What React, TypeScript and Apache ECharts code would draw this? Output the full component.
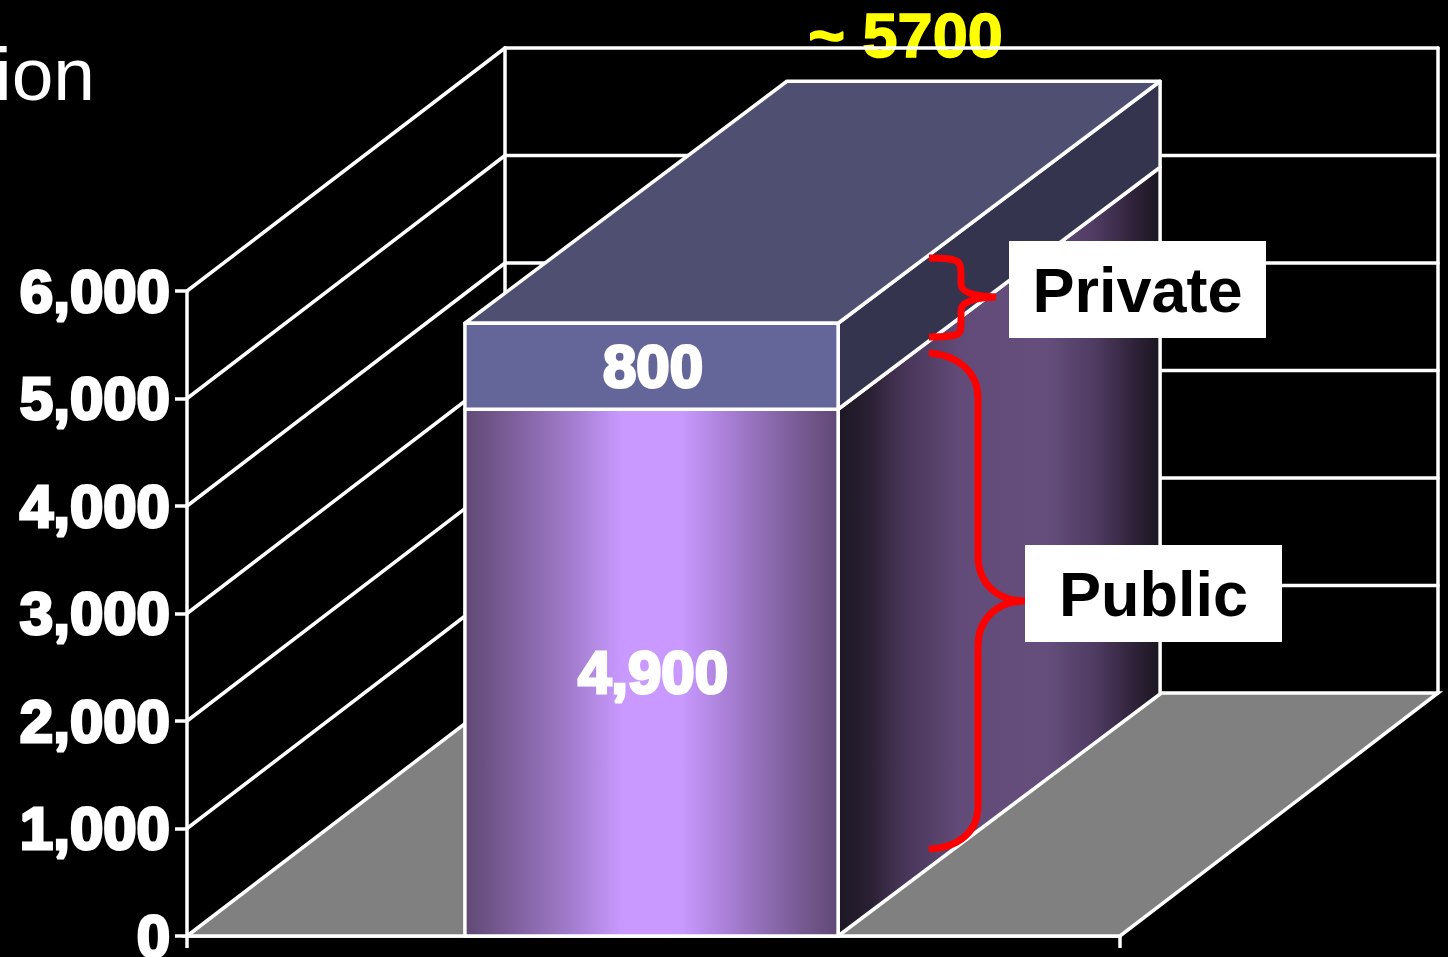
import React, { useEffect, useRef } from "react";
import * as echarts from "echarts";

const categories = ["Funding"];
const publicValues = [4900];
const privateValues = [800];
const yTicks = [0, 1000, 2000, 3000, 4000, 5000, 6000];
const clippedTitle = "ion";
const publicName = "Public";
const privateName = "Private";

const WHITE = "#ffffff";
const FONT = '"Liberation Sans", Arial, sans-serif';
const WALL_DX = 318;
const WALL_DY = -243;
const BAR_DX = 322;
const BAR_DY = -242;
const LINE = 3.5;

const fmt = (v: number) => v.toLocaleString("en-US");

const privateBrace =
  "M929 258 C946 258 956 259 959 263 C961 266 961 270 961 276 L961 284 C961 291 970 296 996 297 C970 298 961 303 961 311 L961 322 C961 328 961 332 958 334 C954 336 944 337 929 337";
const publicBrace =
  "M929 353 C958 355 978 372 978 398 L978 556 C978 582 996 601 1025 601 C996 601 978 620 978 646 L978 806 C978 832 958 848 929 849";
echarts.graphic.registerShape("privateBrace", echarts.graphic.extendPath(privateBrace, {}));
echarts.graphic.registerShape("publicBrace", echarts.graphic.extendPath(publicBrace, {}));

const frontFill = new echarts.graphic.LinearGradient(0, 0, 1, 0, [
  { offset: 0, color: "#5f4975" },
  { offset: 0.1, color: "#775a92" },
  { offset: 0.3, color: "#a67fd2" },
  { offset: 0.42, color: "#c999ff" },
  { offset: 0.58, color: "#c999ff" },
  { offset: 0.72, color: "#a47cd0" },
  { offset: 0.9, color: "#775a92" },
  { offset: 1, color: "#5f4975" },
]);
const sideFill = new echarts.graphic.LinearGradient(0, 0, 1, 0, [
  { offset: 0, color: "#1c1724" },
  { offset: 0.1, color: "#2a2033" },
  { offset: 0.2, color: "#473557" },
  { offset: 0.38, color: "#624b78" },
  { offset: 0.65, color: "#654e7c" },
  { offset: 0.8, color: "#4f3b62" },
  { offset: 0.92, color: "#2e2238" },
  { offset: 1, color: "#1b1620" },
]);

const renderTotal = (_: any, api: any) => {
  const [x0, y] = api.coord([0, publicValues[0] + privateValues[0]]);
  return {
    type: "text",
    x: x0 + 252,
    y: y - 288,
    style: {
      text: `~ ${publicValues[0] + privateValues[0]}`,
      font: `bold 63px ${FONT}`,
      fill: "#ffff00",
      stroke: "#ffff00",
      lineWidth: 1.5,
      align: "center",
      verticalAlign: "middle",
    },
  };
};

const renderWalls = (_: any, api: any) => {
  const v = api.value(1);
  const band = api.size([1, 0])[0];
  const [cx, y] = api.coord([0, v]);
  const x0 = cx - band / 2;
  const x1 = cx + band / 2;
  const line = (a: number, b: number, c: number, d: number) => ({
    type: "line",
    shape: { x1: a, y1: b, x2: c, y2: d },
    style: { stroke: WHITE, lineWidth: LINE, lineCap: "round" },
  });
  const children: any[] = [];
  if (v === 0) {
    const top = api.coord([0, yTicks[yTicks.length - 1]])[1];
    children.push({
      type: "polygon",
      shape: {
        points: [
          [x0, y],
          [x0 + WALL_DX, y + WALL_DY],
          [x1 + WALL_DX, y + WALL_DY],
          [x1, y],
        ],
      },
      style: { fill: "#808080", stroke: WHITE, lineWidth: LINE },
    });
    children.push(line(x0 + WALL_DX, y + WALL_DY, x0 + WALL_DX, top + WALL_DY));
    children.push(line(x1 + WALL_DX, y + WALL_DY, x1 + WALL_DX, top + WALL_DY));
  } else {
    children.push(line(x0, y, x0 + WALL_DX, y + WALL_DY));
    children.push(line(x0 + WALL_DX, y + WALL_DY, x1 + WALL_DX, y + WALL_DY));
  }
  return { type: "group", children };
};

const renderBar = (_: any, api: any) => {
  const i = api.value(0);
  const pub = api.value(1);
  const priv = api.value(2);
  const band = api.size([1, 0])[0];
  const [cx, y0] = api.coord([i, 0]);
  const y1 = api.coord([i, pub])[1];
  const y2 = api.coord([i, pub + priv])[1];
  const left = cx - band * 0.2 - 2;
  const right = cx + band * 0.2 - 2;
  const mid = (left + right) / 2 + 1.5;
  const poly = (points: number[][], fill: any) => ({
    type: "polygon",
    shape: { points },
    style: { fill, stroke: WHITE, lineWidth: LINE, lineJoin: "round" },
  });
  const label = (value: number, a: number, b: number) => ({
    type: "text",
    x: mid,
    y: (a + b) / 2,
    style: {
      text: fmt(value),
      font: `bold 60px ${FONT}`,
      fill: WHITE,
      stroke: WHITE,
      lineWidth: 3,
      align: "center",
      verticalAlign: "middle",
    },
  });
  return {
    type: "group",
    children: [
      poly(
        [
          [right, y0],
          [right, y1],
          [right + BAR_DX, y1 + BAR_DY],
          [right + BAR_DX, y0 + BAR_DY],
        ],
        sideFill
      ),
      poly(
        [
          [right, y1],
          [right, y2],
          [right + BAR_DX, y2 + BAR_DY],
          [right + BAR_DX, y1 + BAR_DY],
        ],
        "#34344f"
      ),
      poly(
        [
          [left, y2],
          [left + BAR_DX, y2 + BAR_DY],
          [right + BAR_DX, y2 + BAR_DY],
          [right, y2],
        ],
        "#4f4f72"
      ),
      poly(
        [
          [left, y0],
          [left, y1],
          [right, y1],
          [right, y0],
        ],
        frontFill
      ),
      poly(
        [
          [left, y1],
          [left, y2],
          [right, y2],
          [right, y1],
        ],
        "#64669a"
      ),
      label(pub, y0, y1),
      label(priv, y1, y2),
    ],
  };
};

const labelBox = (
  x: number,
  y: number,
  width: number,
  height: number,
  text: string
) => ({
  type: "group",
  z: 100,
  children: [
    { type: "rect", z: 100, shape: { x, y, width, height }, style: { fill: WHITE } },
    {
      type: "text",
      z: 101,
      x: x + width / 2,
      y: y + height / 2,
      style: {
        text,
        font: `bold 63px ${FONT}`,
        fill: "#000000",
        align: "center",
        verticalAlign: "middle",
      },
    },
  ],
});

export default function App() {
  const ref = useRef<HTMLDivElement>(null);
  useEffect(() => {
    const chart = echarts.init(ref.current!, undefined, { renderer: "svg" });
    chart.setOption({
      animation: false,
      backgroundColor: "#000000",
      grid: {
        left: 187,
        right: 328,
        top: 291,
        bottom: 21,
        containLabel: false,
        outerBoundsMode: "none",
      },
      xAxis: {
        type: "category",
        data: categories,
        axisLine: { show: true, lineStyle: { color: WHITE, width: LINE } },
        axisTick: { show: true, length: 12, lineStyle: { color: WHITE, width: LINE } },
        axisLabel: { show: false },
        splitLine: { show: false },
      },
      yAxis: {
        type: "value",
        min: 0,
        max: 6000,
        interval: 1000,
        axisLine: { show: true, lineStyle: { color: WHITE, width: LINE } },
        axisTick: { show: true, length: 12, lineStyle: { color: WHITE, width: LINE } },
        axisLabel: {
          color: WHITE,
          fontFamily: FONT,
          fontWeight: "bold",
          fontSize: 60,
          margin: 17,
          textBorderColor: WHITE,
          textBorderWidth: 3,
          formatter: (v: number) => fmt(v),
        },
        splitLine: { show: false },
      },
      series: [
        {
          type: "custom",
          z: 2,
          silent: true,
          renderItem: renderTotal,
          data: [[0, publicValues[0] + privateValues[0]]],
        },
        {
          type: "custom",
          z: 3,
          silent: true,
          renderItem: renderWalls,
          data: yTicks.map((v) => [0, v]),
        },
        {
          type: "custom",
          z: 4,
          silent: true,
          renderItem: renderBar,
          data: categories.map((_, i) => [i, publicValues[i], privateValues[i]]),
        },
      ],
      graphic: {
        z: 100,
        elements: [
          {
            type: "text",
            z: 100,
            x: -5,
            y: 36,
            style: {
              text: clippedTitle,
              font: `75px ${FONT}`,
              fill: WHITE,
            },
          },
          {
            type: "privateBrace",
            z: 99,
            style: { fill: "none", stroke: "#ff0000", lineWidth: 7 },
          },
          {
            type: "publicBrace",
            z: 99,
            style: { fill: "none", stroke: "#ff0000", lineWidth: 7 },
          },
          labelBox(1009, 241, 257, 97, privateName),
          labelBox(1025, 545, 257, 97, publicName),
        ],
      },
    });
    return () => chart.dispose();
  }, []);
  return (
    <div
      ref={ref}
      style={{ position: "fixed", left: 0, top: 0, width: 1448, height: 957, overflow: "hidden" }}
    />
  );
}
